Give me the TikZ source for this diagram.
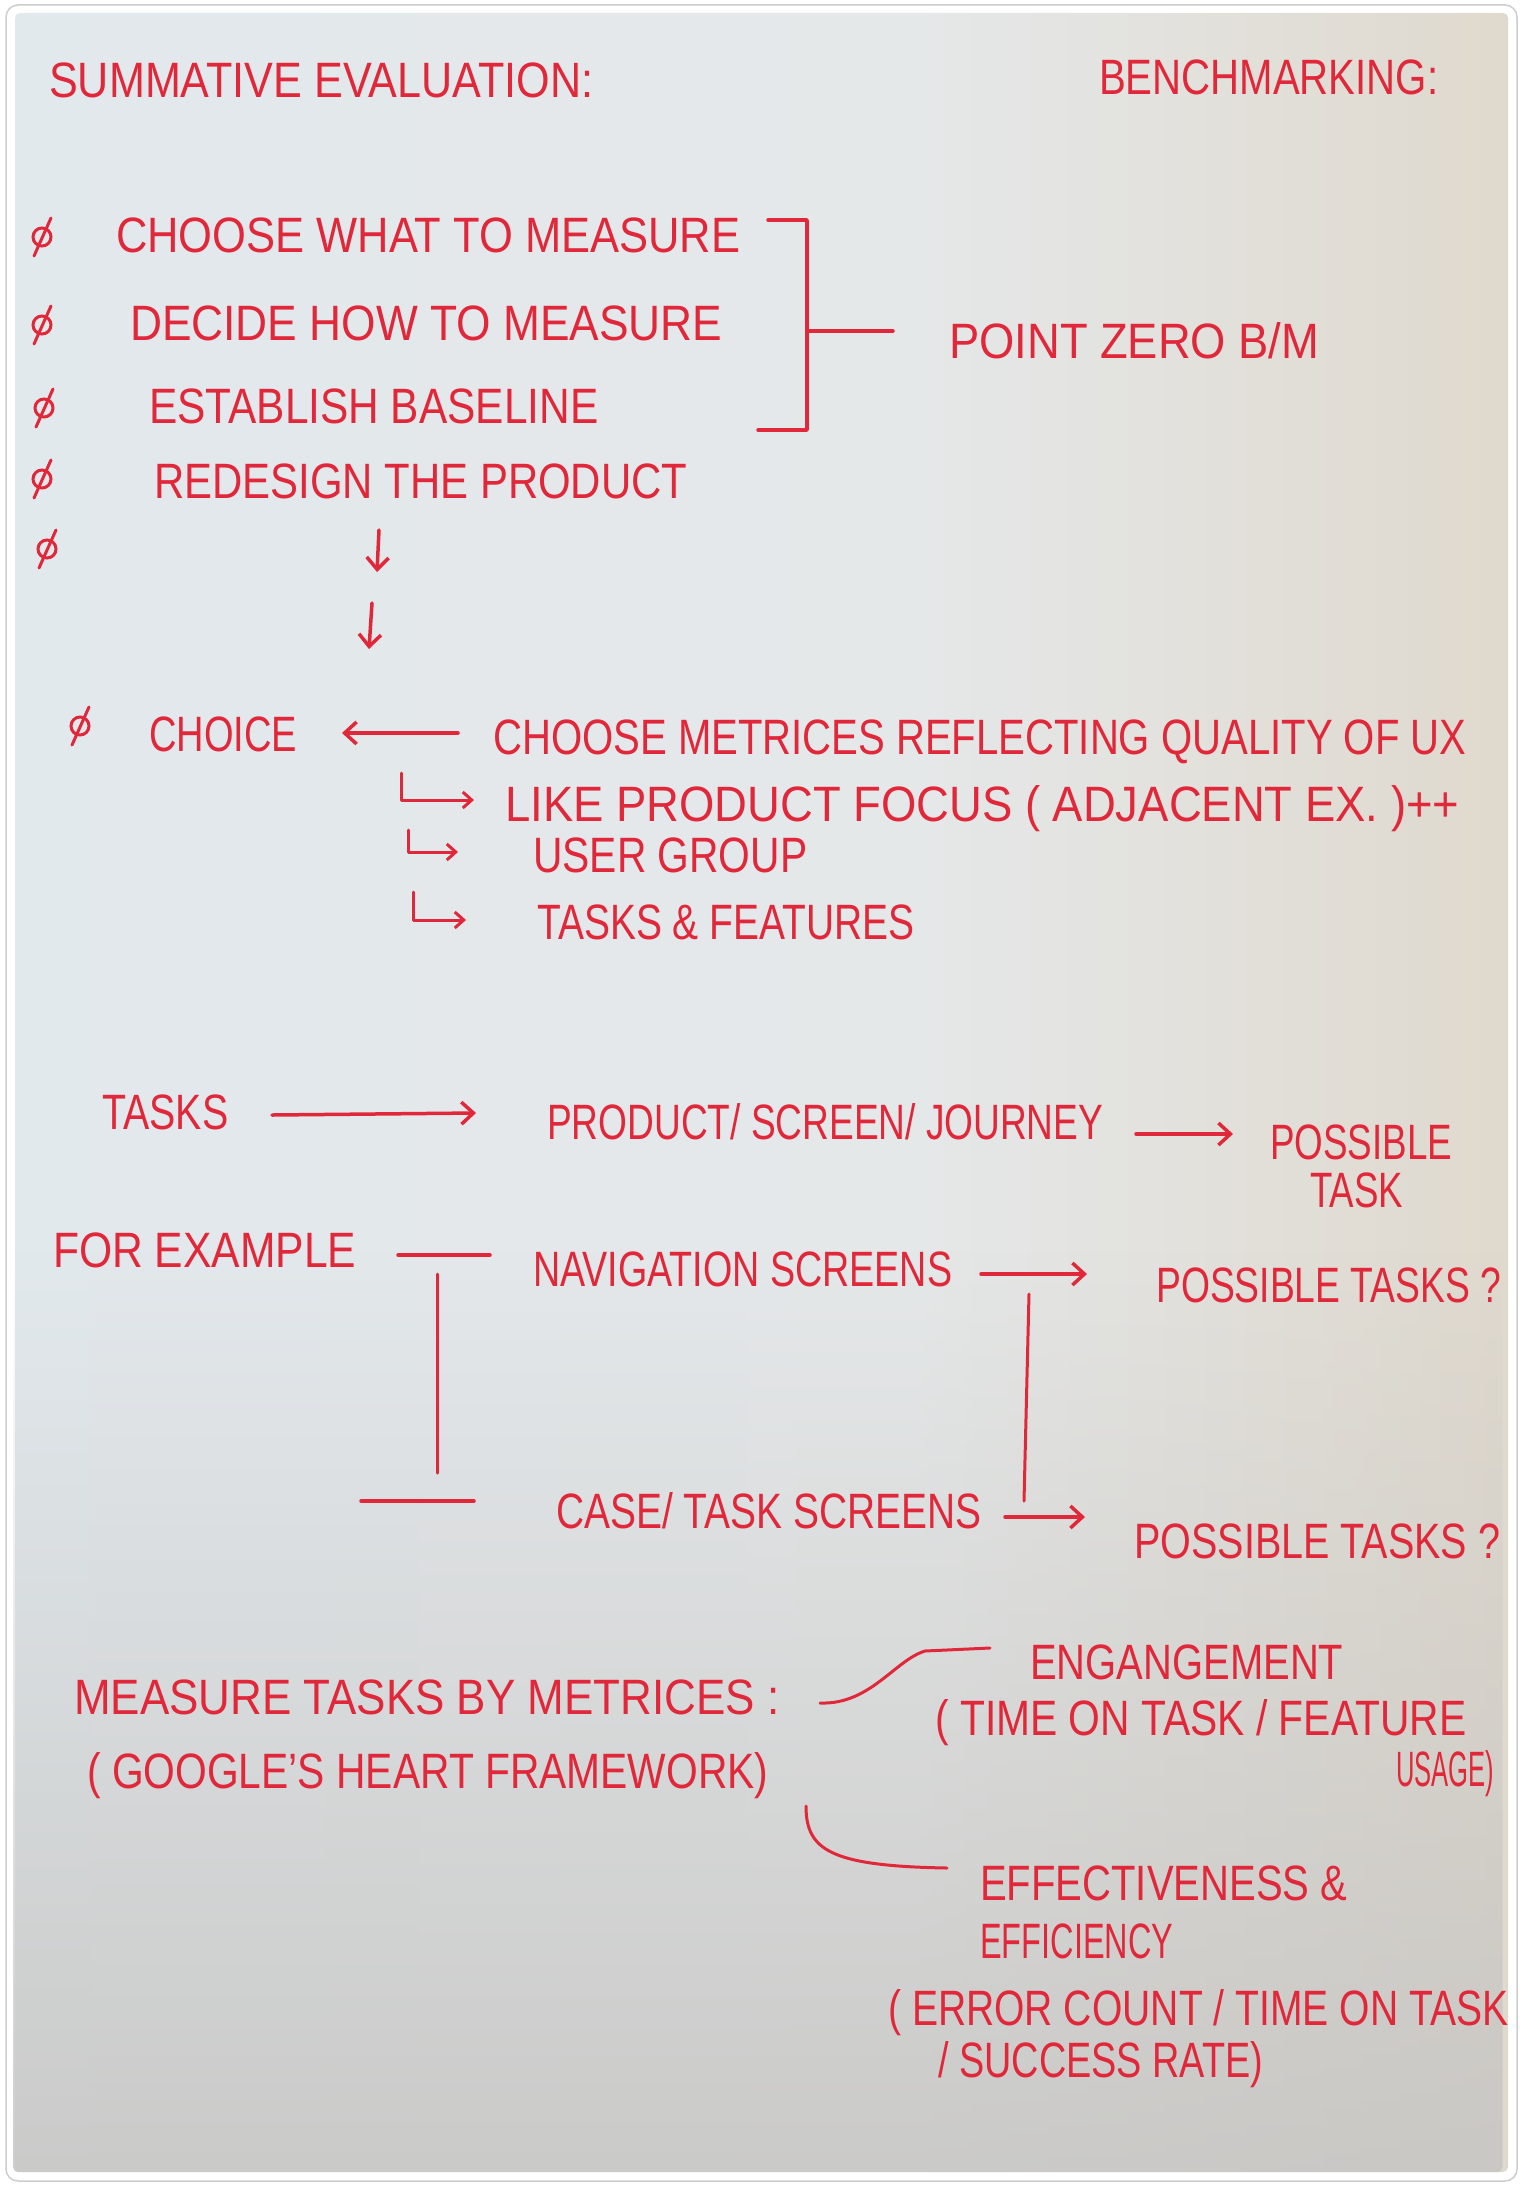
\documentclass[tikz,border=0pt]{standalone}
\usepackage{fontspec}
\setmainfont{Liberation Sans}
\usepackage{graphicx}
\usetikzlibrary{arrows.meta,fadings}
\definecolor{ink}{RGB}{224,40,58}
\definecolor{pA}{RGB}{224,233,240}
\definecolor{pB}{RGB}{229,232,233}
\definecolor{pC}{RGB}{223,216,204}
\definecolor{pD}{RGB}{212,201,185}
\definecolor{pGrey}{RGB}{198,197,195}
\definecolor{framegray}{RGB}{205,205,205}
\pgfdeclarehorizontalshading{paperh}{100bp}{color(0bp)=(pA); color(55bp)=(pB); color(76bp)=(pC); color(100bp)=(pD)}
\newcommand\hw[2]{\resizebox{#1pt}{36pt}{\vphantom{(}#2}}
\tikzset{
  txt/.style={anchor=base west, inner sep=0pt, text=ink},
  bul/.style={circle, draw=ink, line width=3pt, minimum width=18pt, minimum height=18pt, inner sep=0pt},
  ln/.style={draw=ink, line width=3.5pt, line cap=round, line join=round},
  arr/.style={ln, -{Straight Barb[length=12pt,width=22pt]}},
  hook/.style={ln, line width=3pt, -{Straight Barb[length=9pt,width=16pt]}},
}
\begin{document}
\begin{tikzpicture}[x=1pt,y=-1pt]
\useasboundingbox (0,0) rectangle (1523,2189);
\fill[white] (0,0) rectangle (1523,2189);
\draw[framegray, line width=1.5pt, rounded corners=12pt] (6,5) rectangle (1517,2181);
\shade[rounded corners=5pt, shading=paperh] (15,13) rectangle (1508,2172);
\fill[pGrey, path fading=north, fill opacity=0.85, rounded corners=5pt] (15,1250) rectangle (1508,2172);

% titles
\node[txt] (title) at (49,98) {\hw{544}{SUMMATIVE EVALUATION:}};
\node[txt] (bench) at (1099,95) {\hw{339}{BENCHMARKING:}};

% steps
\node[bul] (b1) at (42,237) {};
\node[bul] (b2) at (42,325) {};
\node[bul] (b3) at (44,408) {};
\node[bul] (b4) at (42,479) {};
\node[bul] (b5) at (47,549) {};
\node[bul] (b6) at (80,726) {};
\foreach \b in {b1,b2,b3,b4,b5,b6}
  \draw[ln, line width=3pt] ([shift={(-8,19)}]\b.center) -- ([shift={(9,-19)}]\b.center);

\node[txt] (s1) at (116,252) {\hw{624}{CHOOSE WHAT TO MEASURE}};
\node[txt] (s2) at (130,340) {\hw{592}{DECIDE HOW TO MEASURE}};
\node[txt] (s3) at (149,423) {\hw{449}{ESTABLISH BASELINE}};
\node[txt] (s4) at (154,498) {\hw{533}{REDESIGN THE PRODUCT}};
\node[txt] (pz) at (949,358) {\hw{370}{POINT ZERO B/M}};

\coordinate (bkT0) at (768,220);
\coordinate (bkT1) at (807,220);
\coordinate (bkB1) at (807,430);
\coordinate (bkB0) at (758,430);
\coordinate (bkM0) at (807,331);
\coordinate (bkM1) at (893,331);
\draw[ln] (bkT0) -- (bkT1) -- (bkB1) -- (bkB0);
\draw[ln] (bkM0) -- (bkM1);

\coordinate (d1a) at (379,530);
\coordinate (d1b) at (377,572);
\coordinate (d2a) at (372,603);
\coordinate (d2b) at (369,649);
\draw[arr] (d1a) -- (d1b);
\draw[arr] (d2a) -- (d2b);

% choice
\node[txt] (choice) at (149,751) {\hw{148}{CHOICE}};
\node[txt] (metrics) at (493,754) {\hw{973}{CHOOSE METRICES REFLECTING QUALITY OF UX}};
\node[txt] (like) at (505,821) {\hw{954}{LIKE PRODUCT FOCUS ( ADJACENT EX. )++}};
\node[txt] (user) at (533,872) {\hw{274}{USER GROUP}};
\node[txt] (tf) at (537,939) {\hw{377}{TASKS \& FEATURES}};
\coordinate (ch0) at (458,733);
\coordinate (ch1) at (342,733);
\draw[arr] (ch0) -- (ch1);
\draw[hook] (401,773) -- (401,800) -- (474,800);
\draw[hook] (408,830) -- (408,852) -- (458,852);
\draw[hook] (413,892) -- (413,920) -- (466,920);

% tasks
\node[txt] (tasks) at (102,1129) {\hw{126}{TASKS}};
\node[txt] (psj) at (547,1139) {\hw{556}{PRODUCT/ SCREEN/ JOURNEY}};
\node[txt] (pt1) at (1270,1159) {\hw{182}{POSSIBLE}};
\node[txt] (pt1b) at (1310,1207) {\hw{93}{TASK}};
\coordinate (ta0) at (272,1115);
\coordinate (ta1) at (476,1113);
\coordinate (pj0) at (1136,1134);
\coordinate (pj1) at (1233,1134);
\draw[arr] (ta0) -- (ta1);
\draw[arr] (pj0) -- (pj1);

\node[txt] (fe) at (53,1267) {\hw{303}{FOR EXAMPLE}};
\node[txt] (nav) at (533,1286) {\hw{419}{NAVIGATION SCREENS}};
\node[txt] (pt2) at (1156,1302) {\hw{345}{POSSIBLE TASKS ?}};
\node[txt] (case) at (556,1528) {\hw{425}{CASE/ TASK SCREENS}};
\node[txt] (pt3) at (1134,1558) {\hw{366}{POSSIBLE TASKS ?}};
\coordinate (fe0) at (398,1255);
\coordinate (fe1) at (490,1255);
\coordinate (lv0) at (437,1274);
\coordinate (lv1) at (437,1473);
\coordinate (nv0) at (981,1274);
\coordinate (nv1) at (1087,1274);
\coordinate (rv0) at (1029,1294);
\coordinate (rv1) at (1024,1501);
\coordinate (ll0) at (361,1501);
\coordinate (ll1) at (474,1501);
\coordinate (cs0) at (1005,1517);
\coordinate (cs1) at (1085,1517);
\draw[ln] (fe0) -- (fe1);
\draw[ln, line width=3pt] (lv0) -- (lv1);
\draw[arr] (nv0) -- (nv1);
\draw[ln, line width=3pt] (rv0) -- (rv1);
\draw[ln] (ll0) -- (ll1);
\draw[arr] (cs0) -- (cs1);

% metrics
\node[txt] (mt) at (74,1714) {\hw{705}{MEASURE TASKS BY METRICES :}};
\node[txt] (ghf) at (87,1788) {\hw{681}{( GOOGLE'S HEART FRAMEWORK)}};
\node[txt] (eng) at (1030,1679) {\hw{313}{ENGANGEMENT}};
\node[txt] (tot) at (935,1735) {\hw{531}{( TIME ON TASK / FEATURE}};
\node[txt] (usage) at (1396,1786) {\hw{98}{USAGE)}};
\node[txt] (eff) at (980,1900) {\hw{367}{EFFECTIVENESS \&}};
\node[txt] (effi) at (980,1958) {\hw{193}{EFFICIENCY}};
\node[txt] (err) at (888,2025) {\hw{620}{( ERROR COUNT / TIME ON TASK}};
\node[txt] (sr) at (938,2077) {\hw{325}{/ SUCCESS RATE)}};
\coordinate (cu0) at (820,1703);
\coordinate (cu1) at (925,1651);
\coordinate (cu2) at (990,1648);
\coordinate (cd0) at (806,1806);
\coordinate (cd1) at (947,1868);
\draw[ln, line width=3pt] (cu0) .. controls (870,1705) and (895,1660) .. (cu1) -- (cu2);
\draw[ln, line width=3pt] (cd0) .. controls (806,1850) and (830,1866) .. (cd1);
\end{tikzpicture}
\end{document}
